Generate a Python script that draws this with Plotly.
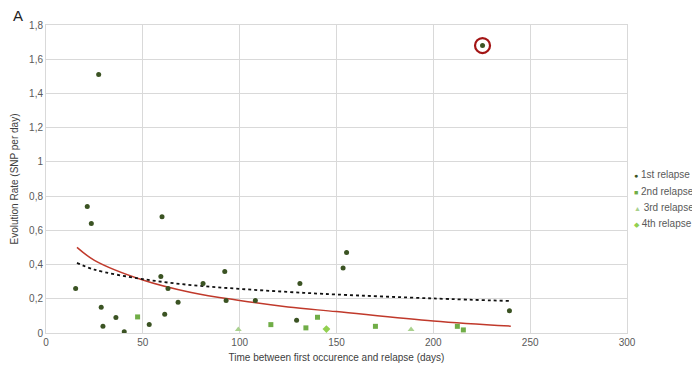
import plotly.graph_objects as go

# ---- data ----
r1_x = [15.3, 21.3, 23.4, 27.2, 28.5, 29.4, 36.1, 40.4, 53.3, 59.3, 59.9, 61.3, 63.0, 68.2,
        81.1, 92.3, 93.0, 108.1, 129.4, 131.1, 153.4, 155.2, 225.4, 239.3]
r1_y = [0.26, 0.74, 0.64, 1.51, 0.15, 0.04, 0.09, 0.008, 0.05, 0.33, 0.68, 0.11, 0.26, 0.18,
        0.29, 0.36, 0.19, 0.19, 0.074, 0.29, 0.38, 0.47, 1.68, 0.13]

r2_x = [47.3, 116.1, 134.2, 140.2, 170.1, 212.4, 215.5]
r2_y = [0.094, 0.049, 0.03, 0.092, 0.039, 0.039, 0.018]

r3_x = [99.3, 188.5]
r3_y = [0.02, 0.02]

r4_x = [144.8]
r4_y = [0.023]

outlier_index = 22  # highlighted 1st-relapse point

trend_x = [16, 25, 50, 75, 100, 125, 150, 200, 240]
trend_red_y = [0.50, 0.425, 0.31, 0.237, 0.19, 0.152, 0.125, 0.07, 0.04]
trend_dot_y = [0.41, 0.37, 0.315, 0.28, 0.258, 0.24, 0.225, 0.202, 0.187]

legend_labels = ["1st relapse", "2nd relapse", "3rd relapse", "4th relapse"]
legend_glyphs = ["●", "■", "▲", "◆"]
colors = ["#3B5323", "#70AD47", "#A9D18E", "#92D050"]

x_title = "Time between first occurence and relapse (days)"
y_title = "Evolution Rate (SNP per day)"
panel_label = "A"

FONT = "Liberation Sans, Arial, sans-serif"
GREY = "#595959"

fig = go.Figure()

fig.add_trace(go.Scatter(x=trend_x, y=trend_red_y, mode="lines", line=dict(color="#C0392B", width=1.5, shape="spline"),
                         showlegend=False, hoverinfo="skip"))
fig.add_trace(go.Scatter(x=trend_x, y=trend_dot_y, mode="lines", line=dict(color="#111111", width=1.8, dash="dot", shape="spline"),
                         showlegend=False, hoverinfo="skip"))

fig.add_trace(go.Scatter(x=r1_x, y=r1_y, mode="markers", name=legend_labels[0],
                         marker=dict(symbol="circle", size=5, color=colors[0])))
fig.add_trace(go.Scatter(x=r2_x, y=r2_y, mode="markers", name=legend_labels[1],
                         marker=dict(symbol="square", size=5, color=colors[1])))
fig.add_trace(go.Scatter(x=r3_x, y=r3_y, mode="markers", name=legend_labels[2],
                         marker=dict(symbol="triangle-up", size=6, color=colors[2])))
fig.add_trace(go.Scatter(x=r4_x, y=r4_y, mode="markers", name=legend_labels[3],
                         marker=dict(symbol="diamond", size=6, color=colors[3])))

# ring around the outlier
fig.add_trace(go.Scatter(x=[r1_x[outlier_index]], y=[r1_y[outlier_index]], mode="markers",
                         marker=dict(symbol="circle-open", size=15, color="#A31515", line=dict(width=2.2)),
                         showlegend=False, hoverinfo="skip"))

# custom legend as annotations
leg_y = [0.514, 0.461, 0.409, 0.357]
for lab, g, c, yy in zip(legend_labels, legend_glyphs, colors, leg_y):
    fig.add_annotation(xref="paper", yref="paper", x=1.0105, y=yy, xanchor="left", yanchor="middle",
                       showarrow=False, align="left", borderpad=0,
                       text=f"<span style='color:{c};font-size:7px'>{g}</span> {lab}",
                       font=dict(family=FONT, size=10, color=GREY))

fig.add_annotation(xref="paper", yref="paper", x=-0.058, y=1.03, xanchor="left", yanchor="middle",
                   showarrow=False, borderpad=0, text=panel_label, font=dict(family=FONT, size=15, color="#222222"))

# page body has an 8px offset, margins compensate for it
fig.update_layout(
    width=700, height=368,
    margin=dict(l=38, r=81, t=17, b=43, autoexpand=False),
    plot_bgcolor="white", paper_bgcolor="white",
    separators=", ",
    showlegend=False,
    font=dict(family=FONT, size=10, color=GREY),
)
fig.update_xaxes(range=[0, 300], dtick=50, tick0=0, showgrid=True, gridcolor="#D9D9D9", gridwidth=1,
                 zeroline=False, showline=True, linecolor="#D9D9D9", mirror=True, automargin=False,
                 ticks="", ticklen=0, tickfont=dict(size=10, color=GREY),
                 title=dict(text=x_title, font=dict(size=10, color="#404040"), standoff=6))
fig.update_yaxes(range=[0, 1.8], dtick=0.2, tick0=0, showgrid=True, gridcolor="#D9D9D9", gridwidth=1,
                 zeroline=False, showline=True, linecolor="#D9D9D9", mirror=True, automargin=False,
                 ticks="", tickfont=dict(size=10, color=GREY),
                 title=dict(text=y_title, font=dict(size=10, color="#404040"), standoff=8))

fig.write_html("out.html")
